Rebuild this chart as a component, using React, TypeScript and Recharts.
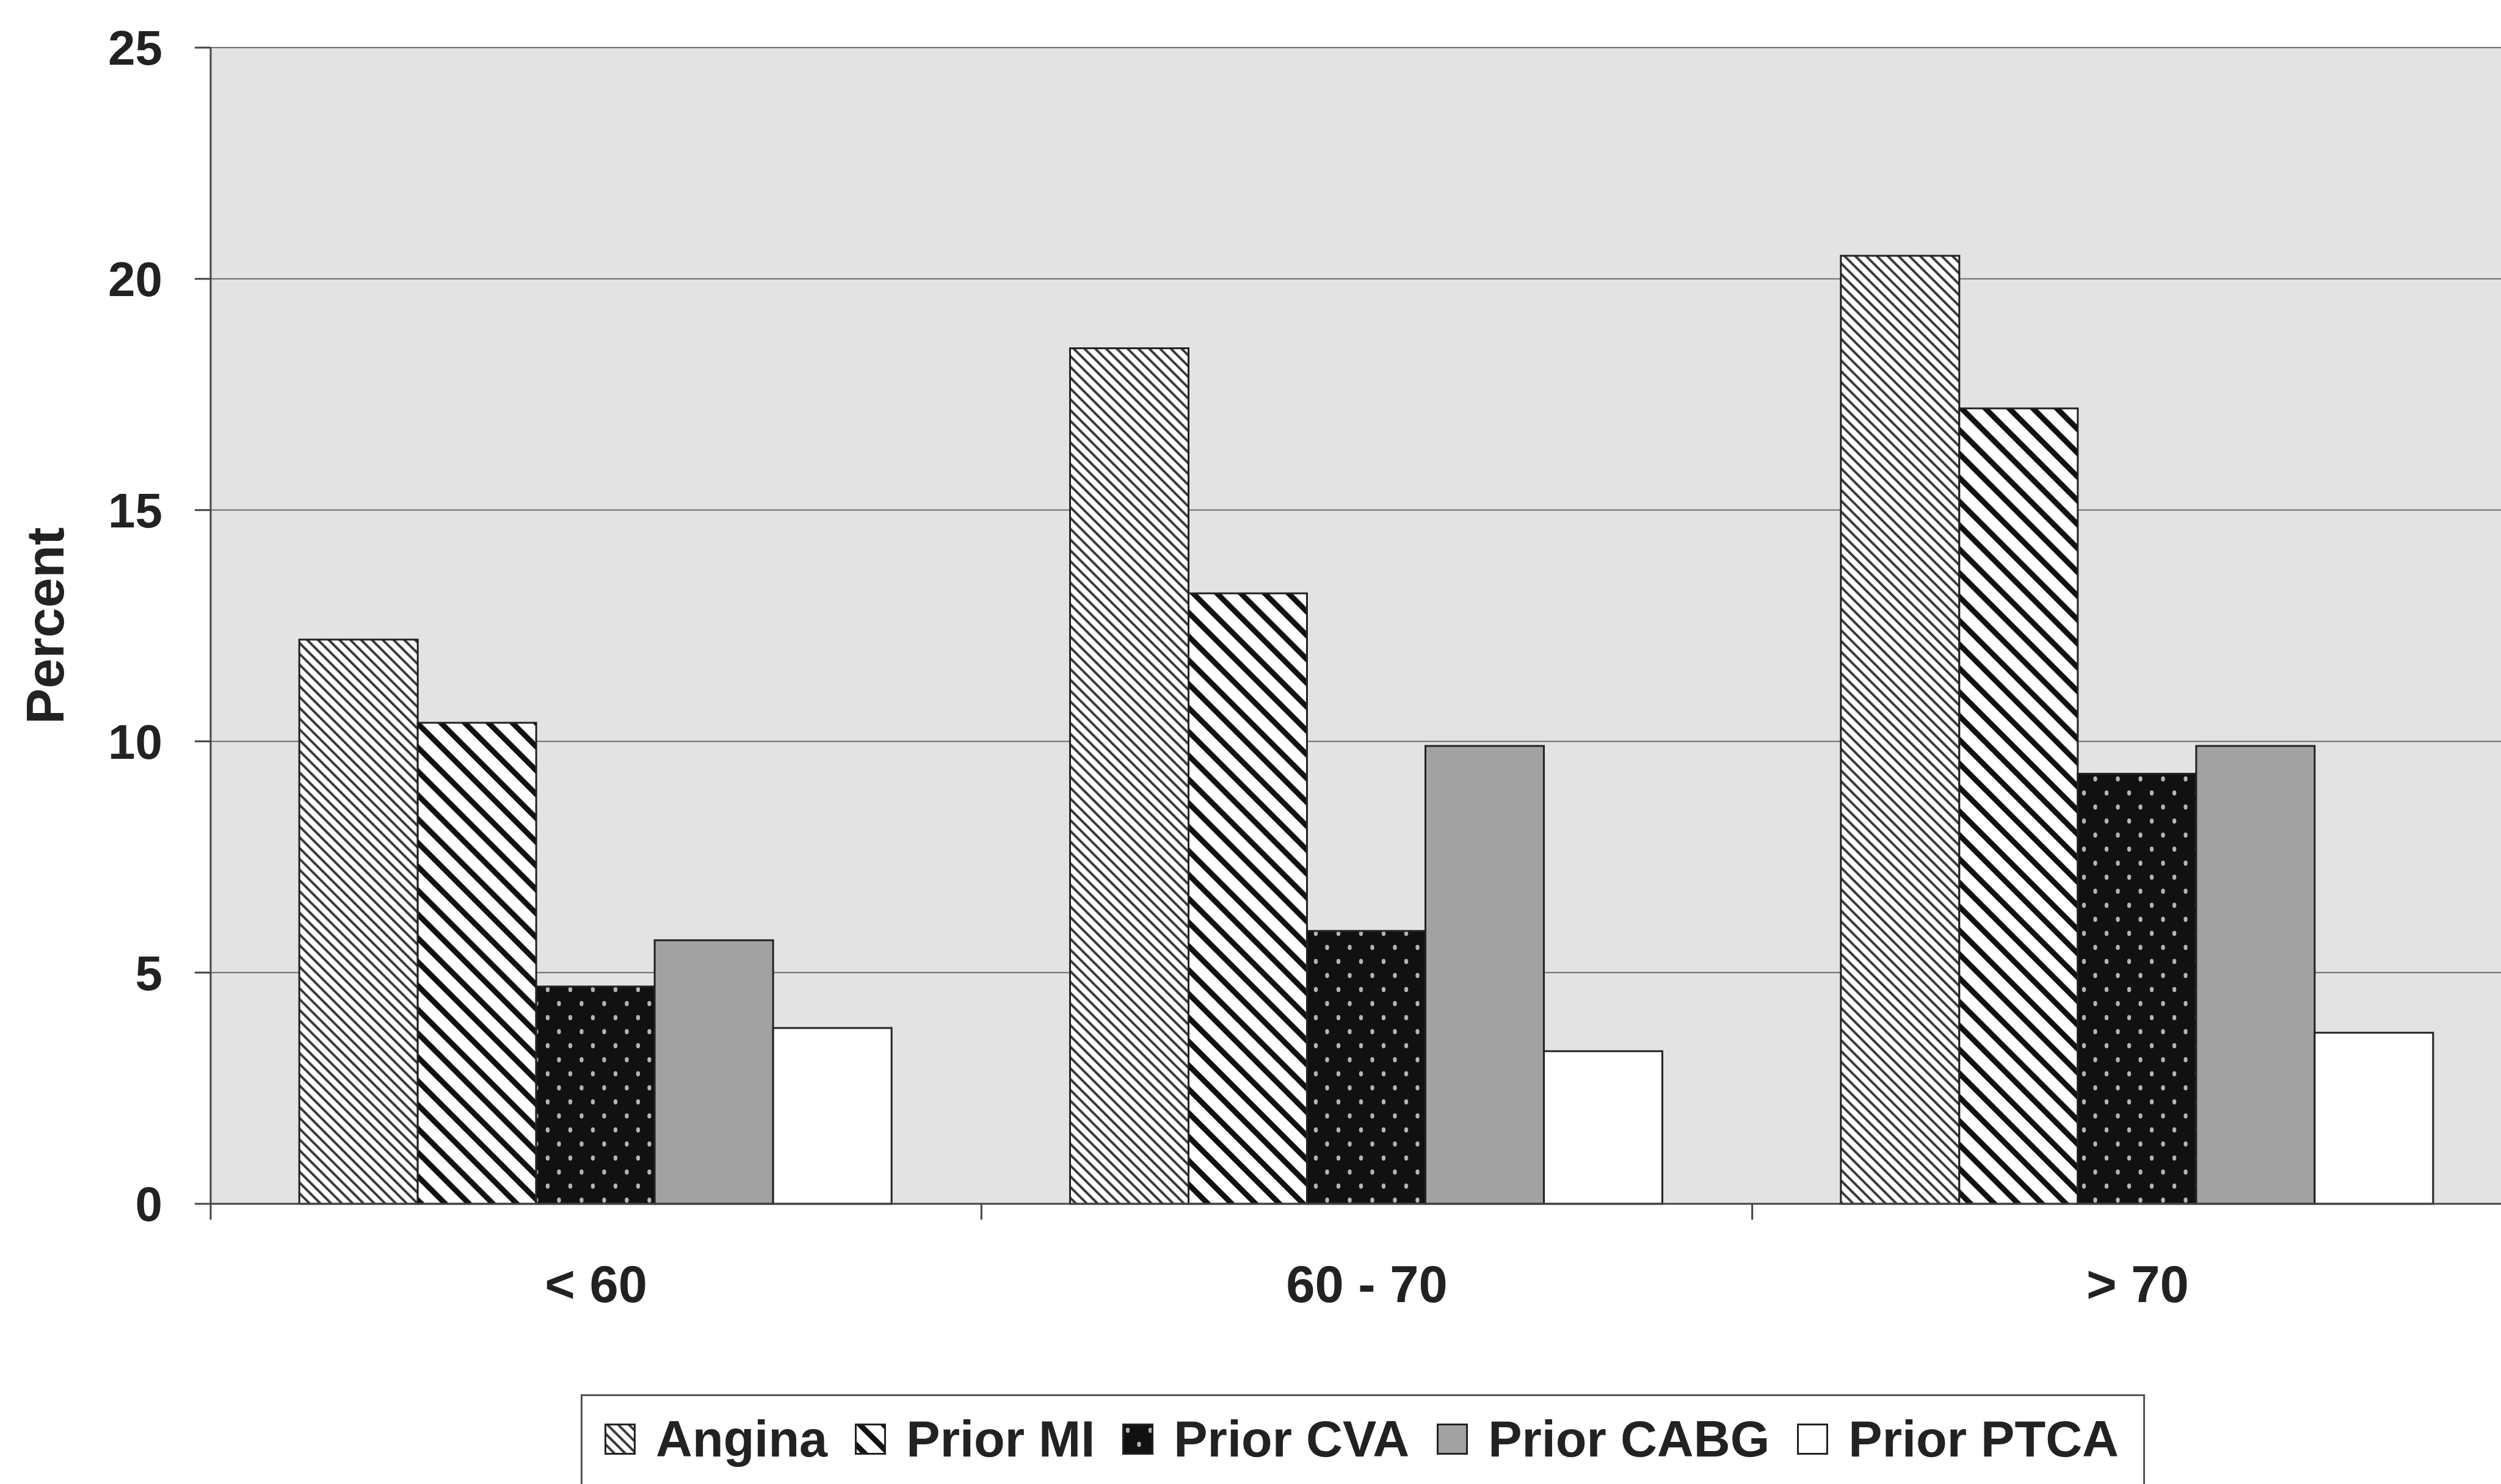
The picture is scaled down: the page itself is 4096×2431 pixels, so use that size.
import React from "react";
import { Bar, BarChart, CartesianGrid, Legend, XAxis, YAxis } from "recharts";

// Prevalence of cardiac history by age group (percent)
const AGE_GROUPS = ["< 60", "60 - 70", "> 70"];
const ANGINA = [12.2, 18.5, 20.5];
const PRIOR_MI = [10.4, 13.2, 17.2];
const PRIOR_CVA = [4.7, 5.9, 9.3];
const PRIOR_CABG = [5.7, 9.9, 9.9];
const PRIOR_PTCA = [3.8, 3.3, 3.7];
const Y_TICKS = [0, 5, 10, 15, 20, 25];

const SERIES = [
  { key: "angina", name: "Angina", fill: "url(#fillAngina)" },
  { key: "priorMI", name: "Prior MI", fill: "url(#fillPriorMI)" },
  { key: "priorCVA", name: "Prior CVA", fill: "url(#fillPriorCVA)" },
  { key: "priorCABG", name: "Prior CABG", fill: "#a2a2a2" },
  { key: "priorPTCA", name: "Prior PTCA", fill: "#ffffff" },
];

const data = AGE_GROUPS.map((group, i) => ({
  group,
  angina: ANGINA[i],
  priorMI: PRIOR_MI[i],
  priorCVA: PRIOR_CVA[i],
  priorCABG: PRIOR_CABG[i],
  priorPTCA: PRIOR_PTCA[i],
}));

const FONT = '"Liberation Sans", Arial, sans-serif';
const INK = "#222";
const X_LABEL_GAP = 101;
const X_TICK_LEN = 26;

// category label plus a short tick at the band's left edge
function GroupTick(props: any) {
  const { x, y, payload } = props;
  const half = payload.offset ?? 0;
  const axisY = y - X_LABEL_GAP;
  return (
    <g>
      <line x1={x - half} y1={axisY} x2={x - half} y2={axisY + X_TICK_LEN} stroke="#444" strokeWidth={3} />
      <text x={x} y={y} dy="0.71em" textAnchor="middle" fontSize={85} fontWeight={700} fill={INK} fontFamily={FONT}>
        {payload.value}
      </text>
    </g>
  );
}

function LegendBox({ payload }: any) {
  // keep the series order instead of the alphabetical one
  const order = SERIES.map((s) => s.name);
  const items = [...(payload || [])].sort((a: any, b: any) => order.indexOf(a.value) - order.indexOf(b.value));
  return (
    <div
      style={{
        boxSizing: "border-box",
        width: "100%",
        height: "100%",
        border: "3px solid #555",
        background: "#fff",
        paddingTop: 29,
        paddingLeft: 36,
        display: "flex",
        alignItems: "flex-start",
      }}
    >
      {items.map((entry: any) => (
        <div key={entry.value} style={{ display: "flex", alignItems: "center", height: 82, marginRight: 45 }}>
          <svg width={51} height={51}>
            <rect x={1.5} y={1.5} width={48} height={48} fill={entry.color} stroke={INK} strokeWidth={3} />
          </svg>
          <span style={{ marginLeft: 33, fontSize: 83, lineHeight: 1, fontWeight: 700, color: INK, fontFamily: FONT, whiteSpace: "nowrap" }}>
            {entry.value}
          </span>
        </div>
      ))}
    </div>
  );
}

export default function App() {
  return (
    <div style={{ position: "absolute", left: 0, top: 0, width: 4096, height: 2431, overflow: "hidden", background: "#fff" }}>
      <BarChart
        width={4140}
        height={2431}
        data={data}
        margin={{ top: 78, right: 8, bottom: 259, left: 0 }}
        barCategoryGap="11.5%"
        barGap={0}
      >
        <defs>
          <pattern id="fillAngina" patternUnits="userSpaceOnUse" width={12.5} height={12.5} patternTransform="rotate(-45)">
            <rect width={12.5} height={12.5} fill="#fff" />
            <rect width={4} height={12.5} fill="#3a3a3a" />
          </pattern>
          <pattern id="fillPriorMI" patternUnits="userSpaceOnUse" width={27.6} height={27.6} patternTransform="rotate(-45)">
            <rect width={27.6} height={27.6} fill="#fff" />
            <rect width={9} height={27.6} fill="#111" />
          </pattern>
          <pattern id="fillPriorCVA" patternUnits="userSpaceOnUse" width={37} height={46}>
            <rect width={37} height={46} fill="#111" />
            <ellipse cx={9} cy={11} rx={3.2} ry={4.2} fill="#b4b4b4" />
            <ellipse cx={27.5} cy={34} rx={3.2} ry={4.2} fill="#b4b4b4" />
          </pattern>
        </defs>
        <CartesianGrid vertical={false} stroke="#6a6a6a" strokeWidth={2} fill="#e3e3e3" fillOpacity={1} />
        <XAxis
          dataKey="group"
          height={200}
          axisLine={{ stroke: "#444", strokeWidth: 3 }}
          tickLine={false}
          tickSize={0}
          tickMargin={X_LABEL_GAP}
          tick={<GroupTick />}
          interval={0}
        />
        <YAxis
          width={345}
          domain={[0, 25]}
          ticks={Y_TICKS}
          interval={0}
          axisLine={{ stroke: "#444", strokeWidth: 3 }}
          tickLine={{ stroke: "#444", strokeWidth: 3 }}
          tickSize={26}
          tickMargin={53}
          tick={{ fontSize: 80, fontWeight: 700, fill: INK, fontFamily: FONT }}
          label={{
            value: "Percent",
            angle: -90,
            position: "insideLeft",
            offset: 73,
            style: { textAnchor: "middle", fontSize: 88, fontWeight: 700, fill: INK, fontFamily: FONT },
          }}
        />
        <Legend
          layout="horizontal"
          verticalAlign="middle"
          align="center"
          wrapperStyle={{ left: 951, top: 2284, width: 2562, height: 200 }}
          content={<LegendBox />}
        />
        {SERIES.map((s) => (
          <Bar
            key={s.key}
            dataKey={s.key}
            name={s.name}
            fill={s.fill}
            stroke={INK}
            strokeWidth={3}
            isAnimationActive={false}
          />
        ))}
      </BarChart>
    </div>
  );
}
